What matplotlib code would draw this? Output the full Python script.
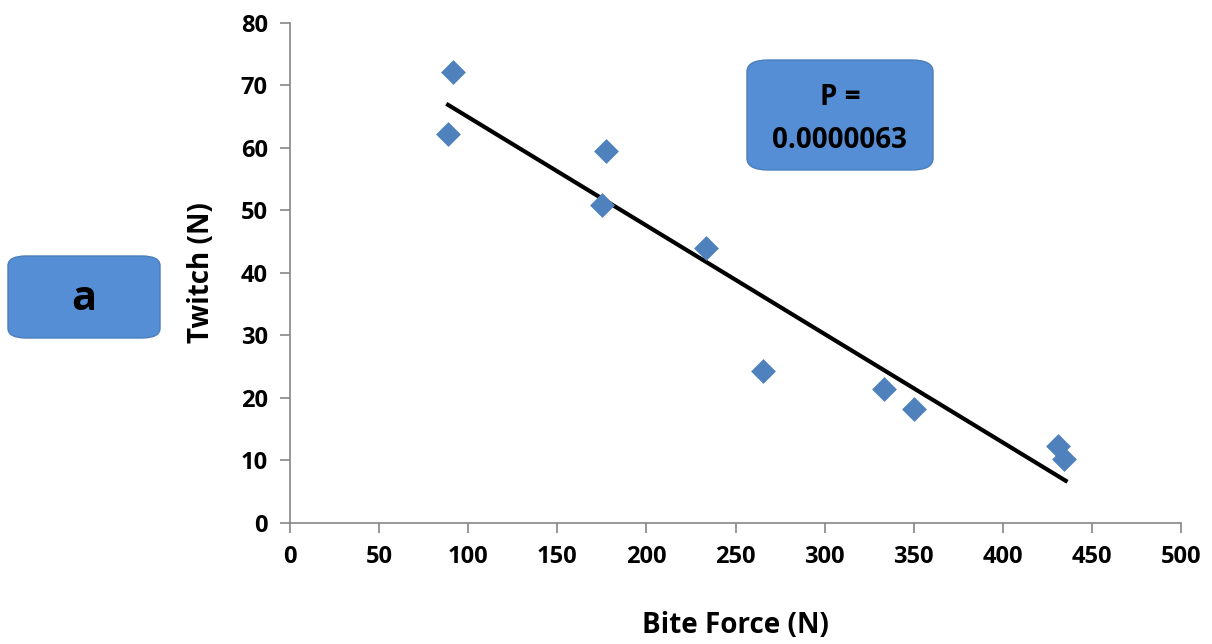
import matplotlib
matplotlib.use('Agg')
import matplotlib.pyplot as plt
import numpy as np
from matplotlib.patches import FancyBboxPatch

plt.rcParams['font.family'] = ['Open Sans', 'DejaVu Sans']
plt.rcParams['font.weight'] = 'bold'

bite_force = [88.7, 91.5, 177.3, 175.1, 233.4, 265.4, 333.3, 350.2, 431.0, 434.3]
twitch = [62.2, 72.2, 59.5, 50.9, 44.0, 24.3, 21.4, 18.2, 12.3, 10.2]
p_text = 'P =\n0.0000063'
panel = 'a'

fig = plt.figure(figsize=(12.12, 6.44), dpi=100)
ax = fig.add_axes([0.2393, 0.1879, 0.7351, 0.7764])

ax.scatter(bite_force, twitch, marker='D', s=160, color='#4F81BD', zorder=3,
           linewidths=0)

# linear trendline
slope, icpt = np.polyfit(bite_force, twitch, 1)
xs = np.array([min(bite_force), max(bite_force) + 1])
ax.plot(xs, slope * xs + icpt, color='black', lw=3, zorder=2)

ax.set_xlim(0, 500)
ax.set_ylim(0, 80)
ax.set_xticks(range(0, 501, 50))
ax.set_yticks(range(0, 81, 10))
for s in ['top', 'right']:
    ax.spines[s].set_visible(False)
for s in ['left', 'bottom']:
    ax.spines[s].set_color('#868686')
    ax.spines[s].set_linewidth(1.2)
ax.tick_params(direction='out', length=7, width=1.2, color='#868686',
               labelsize=17, pad=9)
for lab in ax.get_xticklabels() + ax.get_yticklabels():
    lab.set_fontweight('bold')
ax.set_xlabel('Bite Force (N)', fontsize=20, fontweight='bold', labelpad=30)
ax.set_ylabel('Twitch (N)', fontsize=20, fontweight='bold', labelpad=18)

# rounded boxes
box_col = '#558ED5'
b1 = FancyBboxPatch((8 / 1212, (644 - 338) / 644), 152 / 1212, 82 / 644,
                    boxstyle='round,pad=0,rounding_size=0.015',
                    transform=fig.transFigure, fc=box_col, ec='#4A7EBB', lw=1)
fig.patches.append(b1)
fig.text(84 / 1212, (644 - 300) / 644, panel, ha='center', va='center',
         fontsize=30, fontweight='bold')

b2 = FancyBboxPatch((747 / 1212, (644 - 170) / 644), 186 / 1212, 110 / 644,
                    boxstyle='round,pad=0,rounding_size=0.018',
                    transform=fig.transFigure, fc=box_col, ec='#4A7EBB', lw=1)
fig.patches.append(b2)
fig.text(840 / 1212, (644 - 119) / 644, p_text, ha='center', va='center',
         fontsize=20, fontweight='bold', linespacing=1.65)

fig.savefig('out.png', dpi=100)
